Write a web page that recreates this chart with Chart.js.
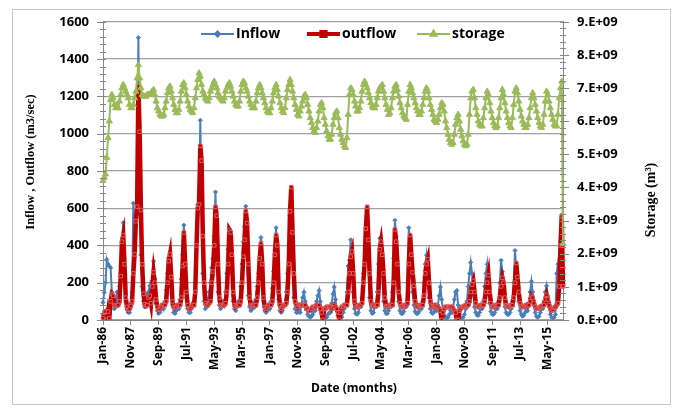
<!DOCTYPE html>
<html>
<head>
<meta charset="utf-8">
<script src="https://cdn.jsdelivr.net/npm/chart.js@4.4.1/dist/chart.umd.min.js"></script>
<style>
  body { margin: 0; background: #fff; }
  #wrap { width: 676px; height: 408px; }
</style>
</head>
<body>
<div id="wrap"><canvas id="flowChart" width="676" height="408"></canvas></div>
<script>
// monthly record Jan-1986 .. May-2016
const monthNames = ['Jan','Feb','Mar','Apr','May','Jun','Jul','Aug','Sep','Oct','Nov','Dec'];
const firstYear = 1986;
const labelEvery = 22; // Excel showed every 22nd category

// inflow, m3/sec
const inflow = [
  94,147,200,324,300,289,280,150,94,60,70,150,        // 1986
  150,180,250,380,522,300,100,55,40,40,70,150,        // 1987
  627,450,560,800,1515,700,350,180,100,70,80,140,     // 1988
  150,183,120,210,316,220,90,50,35,40,55,80,          // 1989
  60,100,160,250,330,364,200,80,40,35,50,70,          // 1990
  60,110,220,350,509,300,120,60,40,40,60,90,          // 1991
  100,200,400,620,650,1072,620,250,100,60,70,110,     // 1992
  150,200,280,330,450,687,400,150,80,60,70,100,       // 1993
  80,150,250,380,491,440,250,100,60,50,70,100,        // 1994
  100,180,300,420,500,610,350,130,70,50,60,90,        // 1995
  70,110,180,250,330,443,250,100,50,40,50,80,         // 1996
  60,100,170,260,380,495,300,110,50,40,50,80,         // 1997
  80,150,250,400,560,678,350,120,60,40,40,50,         // 1998
  40,80,120,149,100,60,30,20,15,20,30,50,             // 1999
  50,100,130,158,100,50,25,15,10,15,30,40,            // 2000
  40,90,140,177,110,50,25,15,10,15,40,60,             // 2001
  80,150,290,320,430,300,150,60,35,30,40,70,          // 2002
  70,120,250,400,490,600,350,120,50,35,40,70,         // 2003
  70,150,300,438,380,250,100,50,35,35,50,80,          // 2004
  70,150,330,535,450,250,100,50,35,35,45,70,          // 2005
  70,200,495,380,250,150,80,45,35,35,45,70,           // 2006
  60,100,200,300,348,250,120,60,40,35,45,60,          // 2007
  50,80,130,177,110,50,25,15,10,15,30,50,             // 2008
  40,70,110,150,158,80,30,15,10,15,30,60,             // 2009
  100,180,250,309,250,150,70,40,25,25,40,60,          // 2010
  60,100,180,250,299,200,90,45,30,30,40,60,           // 2011
  60,100,200,320,260,150,70,40,30,30,40,60,           // 2012
  100,200,373,280,180,100,50,30,20,25,40,60,          // 2013
  50,90,150,207,150,80,40,20,15,20,40,60,             // 2014
  60,100,150,183,130,70,30,15,10,15,30,250,           // 2015
  300,250,420,565,190                                 // 2016
];

// outflow, m3/sec
const outflow = [
  10,40,45,0,45,10,100,139,130,80,76,76,              // 1986
  80,100,235,420,455,300,120,70,55,60,75,100,         // 1987
  250,352,530,608,1254,1010,590,299,140,85,75,80,     // 1988
  120,130,90,180,255,200,110,70,55,60,70,80,          // 1989
  80,80,100,200,316,352,230,100,70,65,70,80,          // 1990
  80,80,120,290,470,300,150,80,60,60,70,80,           // 1991
  80,150,400,600,620,935,855,450,200,90,80,80,        // 1992
  90,100,200,260,400,607,560,300,120,80,80,80,        // 1993
  80,90,150,300,483,470,350,150,80,70,75,80,          // 1994
  80,100,200,340,430,585,520,300,120,80,75,80,        // 1995
  80,80,120,200,330,412,300,120,70,60,70,80,          // 1996
  80,80,100,200,350,456,400,150,80,60,70,80,          // 1997
  80,90,150,300,583,713,470,250,100,80,70,80,         // 1998
  80,80,80,80,80,60,60,50,50,60,70,70,                // 1999
  70,80,80,80,60,40,0,60,60,70,70,70,                 // 2000
  70,60,70,80,70,60,40,0,40,70,70,80,                 // 2001
  80,80,150,250,340,367,250,100,70,70,75,80,          // 2002
  80,90,200,300,490,607,430,250,100,75,75,80,         // 2003
  80,80,150,380,420,350,250,120,75,70,75,80,          // 2004
  80,80,200,486,420,300,150,90,75,70,75,80,           // 2005
  80,90,300,456,350,255,183,100,75,70,75,80,          // 2006
  80,80,130,250,300,326,200,100,75,70,75,80,          // 2007
  75,70,60,50,0,40,60,70,70,70,70,70,                 // 2008
  70,60,50,40,0,0,50,60,70,70,75,80,                  // 2009
  75,80,100,150,190,210,150,90,75,70,75,80,           // 2010
  75,80,100,150,200,240,150,90,75,70,75,80,           // 2011
  75,80,120,180,227,200,120,80,75,70,75,80,           // 2012
  80,120,200,306,230,150,90,75,70,70,75,80,           // 2013
  75,80,100,130,120,90,70,60,60,65,70,75,             // 2014
  75,80,110,135,110,80,60,50,55,65,70,80,             // 2015
  90,180,400,557,180                                  // 2016
];

// storage, 10^9 m3
const storage = [
  4.2,4.3,4.4,4.9,5.5,6.0,6.65,6.8,6.7,6.5,6.4,6.5,          // 1986
  6.4,6.6,6.8,7.0,7.1,7.0,6.9,6.8,6.7,6.5,6.4,6.4,           // 1987
  6.5,6.7,6.9,7.3,7.7,7.3,7.0,6.8,6.75,6.75,6.75,6.8,        // 1988
  6.8,6.8,6.85,6.9,6.95,6.8,6.6,6.4,6.3,6.2,6.15,6.15,       // 1989
  6.2,6.4,6.6,6.85,7.0,7.05,6.9,6.7,6.5,6.35,6.25,6.25,      // 1990
  6.35,6.6,6.9,7.1,7.15,7.0,6.8,6.6,6.45,6.35,6.3,6.25,      // 1991
  6.4,6.7,7.0,7.25,7.45,7.35,7.1,6.9,6.8,6.7,6.65,6.6,       // 1992
  6.7,6.9,7.0,7.1,7.2,7.1,7.0,6.85,6.75,6.7,6.65,6.6,        // 1993
  6.7,6.9,7.0,7.1,7.15,7.05,6.9,6.75,6.6,6.5,6.45,6.45,      // 1994
  6.6,6.9,7.1,7.2,7.15,7.0,6.9,6.75,6.6,6.5,6.4,6.4,         // 1995
  6.4,6.6,6.85,7.0,7.1,7.0,6.85,6.7,6.55,6.4,6.3,6.25,       // 1996
  6.25,6.4,6.6,6.85,7.0,7.1,6.95,6.75,6.55,6.4,6.3,6.25,     // 1997
  6.4,6.7,6.95,7.1,7.25,7.1,6.9,6.7,6.5,6.35,6.2,6.15,       // 1998
  6.3,6.45,6.6,6.75,6.8,6.7,6.5,6.3,6.1,5.95,5.8,5.7,        // 1999
  5.65,5.8,6.0,6.3,6.5,6.55,6.4,6.1,5.9,5.7,5.55,5.45,       // 2000
  5.45,5.6,5.9,6.1,6.25,6.3,6.1,5.8,5.6,5.45,5.35,5.25,      // 2001
  5.2,5.5,6.2,6.8,7.0,6.95,6.8,6.6,6.45,6.3,6.3,6.4,         // 2002
  6.6,6.9,7.1,7.2,7.1,7.0,6.85,6.7,6.55,6.45,6.4,6.4,        // 2003
  6.5,6.7,6.9,7.0,7.05,7.1,6.9,6.7,6.5,6.35,6.2,6.25,        // 2004
  6.4,6.7,6.9,7.05,7.1,6.95,6.75,6.55,6.4,6.25,6.15,6.1,     // 2005
  6.05,6.5,6.9,7.1,7.0,6.85,6.7,6.55,6.4,6.3,6.2,6.2,        // 2006
  6.3,6.5,6.7,6.9,7.0,6.9,6.7,6.5,6.35,6.2,6.05,6.0,         // 2007
  5.95,6.05,6.2,6.4,6.55,6.5,6.3,6.0,5.8,5.6,5.45,5.35,      // 2008
  5.3,5.35,5.6,5.9,6.1,6.2,6.0,5.75,5.55,5.4,5.3,5.25,       // 2009
  5.3,5.6,6.2,6.7,6.9,6.95,6.7,6.4,6.2,6.0,5.9,5.85,         // 2010
  5.85,6.1,6.4,6.7,6.9,6.8,6.55,6.3,6.1,5.95,5.85,5.8,       // 2011
  5.85,6.1,6.4,6.7,6.95,6.8,6.55,6.3,6.1,5.95,5.85,5.8,      // 2012
  6.1,6.5,6.9,7.0,6.85,6.6,6.35,6.15,6.0,5.9,5.8,5.8,        // 2013
  5.9,6.1,6.4,6.7,6.85,6.7,6.5,6.3,6.1,5.95,5.85,5.8,        // 2014
  5.9,6.2,6.6,6.9,6.8,6.6,6.4,6.2,6.05,5.9,5.85,5.85,        // 2015
  6.2,6.7,7.0,7.2,2.3                                        // 2016
];

const labels = inflow.map((v, i) =>
  monthNames[i % 12] + '-' + String(firstYear + Math.floor(i / 12)).slice(2));

const blue = '#4A7EBB';
const red = '#C00000';
const green = '#9BBB59';
const tickFont = { family: 'Open Sans', weight: 'bold', size: 12 };
const axisFont = { family: 'Open Sans', weight: 'bold', size: 13 };

// frame, axis titles, minor ticks and the in-plot legend
const extras = {
  id: 'extras',
  beforeDraw(chart) {
    const c = chart.ctx;
    c.save();
    c.fillStyle = '#fff';
    c.fillRect(0, 0, chart.width, chart.height);
    c.strokeStyle = '#c8c8c8';
    c.lineWidth = 1;
    c.strokeRect(12.5, 9.5, 658, 395);
    c.restore();
  },
  afterDraw(chart) {
    const c = chart.ctx;
    const a = chart.chartArea;
    const y = chart.scales.y, y1 = chart.scales.y1;
    c.save();
    c.strokeStyle = '#868686';
    c.lineWidth = 1;
    for (let v = 0; v <= 1600; v += 40) {
      const py = Math.round(y.getPixelForValue(v)) + 0.5;
      c.beginPath();
      c.moveTo(a.left - (v % 200 === 0 ? 6 : 3), py);
      c.lineTo(a.left + 3, py);
      c.stroke();
    }
    for (let v = 0; v <= 9; v += 0.2) {
      const py = Math.round(y1.getPixelForValue(v)) + 0.5;
      const major = Math.abs(v - Math.round(v)) < 0.01;
      c.beginPath();
      c.moveTo(a.right - 3, py);
      c.lineTo(a.right + (major ? 6 : 3), py);
      c.stroke();
    }

    c.fillStyle = '#000';
    c.textAlign = 'center';
    c.textBaseline = 'middle';
    c.save();
    c.translate(31, 162);
    c.rotate(-Math.PI / 2);
    c.font = 'bold 12.5px "Liberation Serif"';
    c.fillText('Inflow , Outflow (m3/sec)', 0, 0);
    c.restore();
    c.save();
    c.translate(651, 200);
    c.rotate(-Math.PI / 2);
    c.font = 'bold 14px "Liberation Serif"';
    c.fillText('Storage (m\u00B3)', 0, 0);
    c.restore();
    c.font = 'bold 12px "Open Sans"';
    c.fillText('Date (months)', 354, 389);

    // legend
    const items = [
      { text: 'Inflow', x: 201, color: blue, width: 2, style: 'rectRot', r: 2.5 },
      { text: 'outflow', x: 307, color: red, width: 4, style: 'rect', r: 3 },
      { text: 'storage', x: 417, color: green, width: 2, style: 'triangle', r: 3.5 }
    ];
    const ly = 34;
    c.textAlign = 'left';
    c.font = 'bold 14px "Open Sans"';
    items.forEach((it) => {
      c.strokeStyle = it.color;
      c.lineWidth = it.width;
      c.beginPath();
      c.moveTo(it.x, ly);
      c.lineTo(it.x + 33, ly);
      c.stroke();
      c.fillStyle = it.color;
      Chart.helpers.drawPoint(c, { pointStyle: it.style, radius: it.r, borderWidth: 1 }, it.x + 16.5, ly);
      c.fillStyle = '#000';
      c.fillText(it.text, it.x + 35, ly);
    });
    c.restore();
  }
};

new Chart(document.getElementById('flowChart'), {
  type: 'line',
  data: {
    labels: labels,
    datasets: [
      {
        label: 'Inflow',
        data: inflow,
        yAxisID: 'y',
        borderColor: blue,
        backgroundColor: blue,
        borderWidth: 2,
        pointStyle: 'rectRot',
        pointRadius: 2,
        pointBorderWidth: 1,
        order: 3
      },
      {
        label: 'outflow',
        data: outflow,
        yAxisID: 'y',
        borderColor: red,
        backgroundColor: red,
        borderWidth: 4.5,
        pointStyle: 'rect',
        pointRadius: 2.5,
        pointBorderColor: '#D86060',
        pointBorderWidth: 1,
        order: 2
      },
      {
        label: 'storage',
        data: storage,
        yAxisID: 'y1',
        borderColor: green,
        backgroundColor: green,
        borderWidth: 2,
        pointStyle: 'triangle',
        pointRadius: 3.5,
        pointBorderWidth: 1,
        order: 1
      }
    ]
  },
  options: {
    responsive: false,
    animation: false,
    layout: { padding: { top: 20 } },
    plugins: {
      legend: { display: false },
      tooltip: { enabled: false }
    },
    scales: {
      x: {
        offset: false,
        grid: { drawOnChartArea: false, color: '#868686', tickLength: 5 },
        border: { color: '#868686' },
        ticks: {
          autoSkip: false,
          minRotation: 90,
          maxRotation: 90,
          padding: 2,
          color: '#000',
          font: tickFont,
          callback: (v, i) => (i % labelEvery === 0 ? labels[i] : null)
        },
        afterFit: (s) => { s.height = 88; }
      },
      y: {
        position: 'left',
        min: 0,
        max: 1600,
        ticks: {
          stepSize: 200,
          padding: 14,
          color: '#000',
          font: axisFont,
          callback: (v) => String(v)
        },
        grid: { color: '#a0a0a0', lineWidth: 1.2, drawTicks: false },
        border: { color: '#868686' },
        afterFit: (s) => { s.width = 103; }
      },
      y1: {
        position: 'right',
        min: 0,
        max: 9,
        ticks: {
          stepSize: 1,
          padding: 14,
          color: '#000',
          font: axisFont,
          callback: (v) => (v === 0 ? '0.E+00' : v + '.E+09')
        },
        grid: { drawOnChartArea: false, drawTicks: false },
        border: { color: '#868686' },
        afterFit: (s) => { s.width = 113; }
      }
    }
  },
  plugins: [extras]
});
</script>
</body>
</html>
